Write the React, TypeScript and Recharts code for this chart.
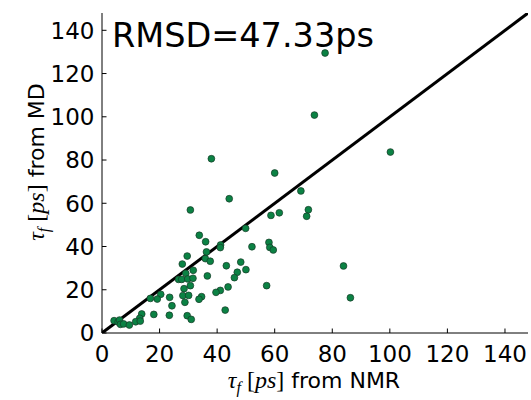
import React from 'react';
import { ScatterChart, Scatter, XAxis, YAxis, ReferenceLine } from 'recharts';

const nmrValues = [
  77.5, 73.8, 38, 100.2, 60, 69.1, 44.2, 30.7, 58.7, 61.6, 71.7, 71.1, 49.9, 33.8,
  36, 58, 41.2, 41.1, 52.1, 58.3, 59.5, 36.3, 29.6, 35.9, 37.6, 27.9, 43.2, 48.2,
  83.9, 31.7, 29.1, 50, 47, 36.6, 46, 26.6, 27.7, 29.8, 31.6, 30.7, 28.5, 43.8,
  57.2, 41.1, 39.6, 28.1, 30.1, 20.4, 16.8, 19.2, 23.5, 34.6, 33.7, 86.3, 28.8,
  24.3, 42.8, 13.8, 18, 23.4, 29.6, 31, 13.1, 11.7, 13.3, 4.2, 5.6, 6.1, 6.4, 7.5, 9.5,
];
const mdValues = [
  129.5, 100.8, 80.6, 83.7, 74, 65.7, 62.1, 56.9, 54.4, 55.6, 57, 54, 48.4, 45.2,
  42.2, 41.9, 40.7, 39.5, 39.9, 39.6, 38.4, 37.5, 35.6, 34.4, 33.2, 31.9, 31.1, 32.8,
  31, 29, 27.6, 29.3, 28.1, 26.4, 25.6, 24.8, 24.8, 25, 25.3, 21.9, 20.5, 21.3,
  21.9, 19.7, 18.8, 17.3, 17.4, 17.9, 16, 15.7, 16.5, 16.8, 15.6, 16.3, 14.2,
  12.6, 10.6, 8.8, 8.6, 8.2, 8, 6.3, 6.8, 5.2, 5.5, 5.7, 5.1, 6, 4, 4.2, 3.7,
];
const tickValues = [0, 20, 40, 60, 80, 100, 120, 140];
const axisMax = 148;
const rmsdLabel = 'RMSD=47.33ps';

const points = nmrValues.map((x, i) => ({ x, y: mdValues[i] }));

const FONT = '"DejaVu Sans", sans-serif';
const MATH = '"Liberation Serif", serif';
const TL = 4.5;

const BottomTick = (p: any) => (
  <g>
    <line x1={p.x} y1={p.y} x2={p.x} y2={p.y - TL} stroke="#000" strokeWidth={1} />
    <text x={p.x} y={p.y + 28.5} textAnchor="middle" fontSize={23} fontFamily={FONT} fill="#000">
      {p.payload.value}
    </text>
  </g>
);
const TopTick = (p: any) => (
  <line x1={p.x} y1={p.y} x2={p.x} y2={p.y + TL} stroke="#000" strokeWidth={1} />
);
const LeftTick = (p: any) => (
  <g>
    <line x1={p.x} y1={p.y} x2={p.x + TL} y2={p.y} stroke="#000" strokeWidth={1} />
    <text x={p.x - 7.5} y={p.y} dy="0.36em" textAnchor="end" fontSize={23} fontFamily={FONT} fill="#000">
      {p.payload.value}
    </text>
  </g>
);
const RightTick = (p: any) => (
  <line x1={p.x} y1={p.y} x2={p.x - TL} y2={p.y} stroke="#000" strokeWidth={1} />
);

const Dot = (p: any) => (
  <circle cx={p.cx} cy={p.cy} r={3.4} fill="#0b8244" stroke="#173a26" strokeWidth={0.7} />
);

const AxisLabel = ({ rest }: { rest: string }) => (
  <>
    <tspan fontFamily={MATH} fontStyle="italic" fontSize={24}>τ</tspan>
    <tspan fontFamily={MATH} fontStyle="italic" fontSize={16} dy={5}>f</tspan>
    <tspan fontFamily={MATH} fontSize={24} dy={-5}> [</tspan>
    <tspan fontFamily={MATH} fontStyle="italic" fontSize={24}>ps</tspan>
    <tspan fontFamily={MATH} fontSize={24}>]</tspan>
    <tspan>{rest}</tspan>
  </>
);

export default function App() {
  return (
    <div style={{ position: 'absolute', left: 0, top: 0, width: 531, height: 400, background: '#fff' }}>
      <ScatterChart width={531} height={400} margin={{ top: 13, right: 3, bottom: 0, left: 0 }}>
        <XAxis
          xAxisId="b"
          type="number"
          dataKey="x"
          domain={[0, axisMax]}
          ticks={tickValues}
          interval={0}
          height={67}
          tickSize={0}
          tickMargin={0}
          tickLine={false}
          tick={<BottomTick />}
          axisLine={{ stroke: '#000', strokeWidth: 1 }}
          allowDataOverflow
        />
        <XAxis
          xAxisId="t"
          orientation="top"
          type="number"
          domain={[0, axisMax]}
          ticks={tickValues}
          interval={0}
          height={0}
          tickSize={0}
          tickMargin={0}
          tickLine={false}
          tick={<TopTick />}
          axisLine={{ stroke: '#000', strokeWidth: 1 }}
          allowDataOverflow
        />
        <YAxis
          yAxisId="l"
          type="number"
          dataKey="y"
          domain={[0, axisMax]}
          ticks={tickValues}
          interval={0}
          width={102}
          tickSize={0}
          tickMargin={0}
          tickLine={false}
          tick={<LeftTick />}
          axisLine={{ stroke: '#000', strokeWidth: 1 }}
          allowDataOverflow
        />
        <YAxis
          yAxisId="r"
          orientation="right"
          type="number"
          domain={[0, axisMax]}
          ticks={tickValues}
          interval={0}
          width={0}
          tickSize={0}
          tickMargin={0}
          tickLine={false}
          tick={<RightTick />}
          axisLine={{ stroke: '#000', strokeWidth: 1 }}
          allowDataOverflow
        />
        <Scatter data={points} xAxisId="b" yAxisId="l" shape={<Dot />} isAnimationActive={false} />
        <ReferenceLine
          xAxisId="b"
          yAxisId="l"
          segment={[{ x: 0, y: 0 }, { x: axisMax, y: axisMax }]}
          stroke="#000"
          strokeWidth={3}
          ifOverflow="hidden"
        />
      </ScatterChart>
      <svg width={531} height={400} style={{ position: 'absolute', left: 0, top: 0, pointerEvents: 'none' }}>
        <text x={112} y={46.5} fontSize={33.5} fontFamily={FONT} fill="#000">{rmsdLabel}</text>
        <text x={314} y={388} textAnchor="middle" fontSize={22} fontFamily={FONT} fill="#000">
          <AxisLabel rest=" from NMR" />
        </text>
        <text
          x={44}
          y={162}
          textAnchor="middle"
          fontSize={22}
          fontFamily={FONT}
          fill="#000"
          transform="rotate(-90, 44, 162)"
        >
          <AxisLabel rest=" from MD" />
        </text>
      </svg>
    </div>
  );
}
